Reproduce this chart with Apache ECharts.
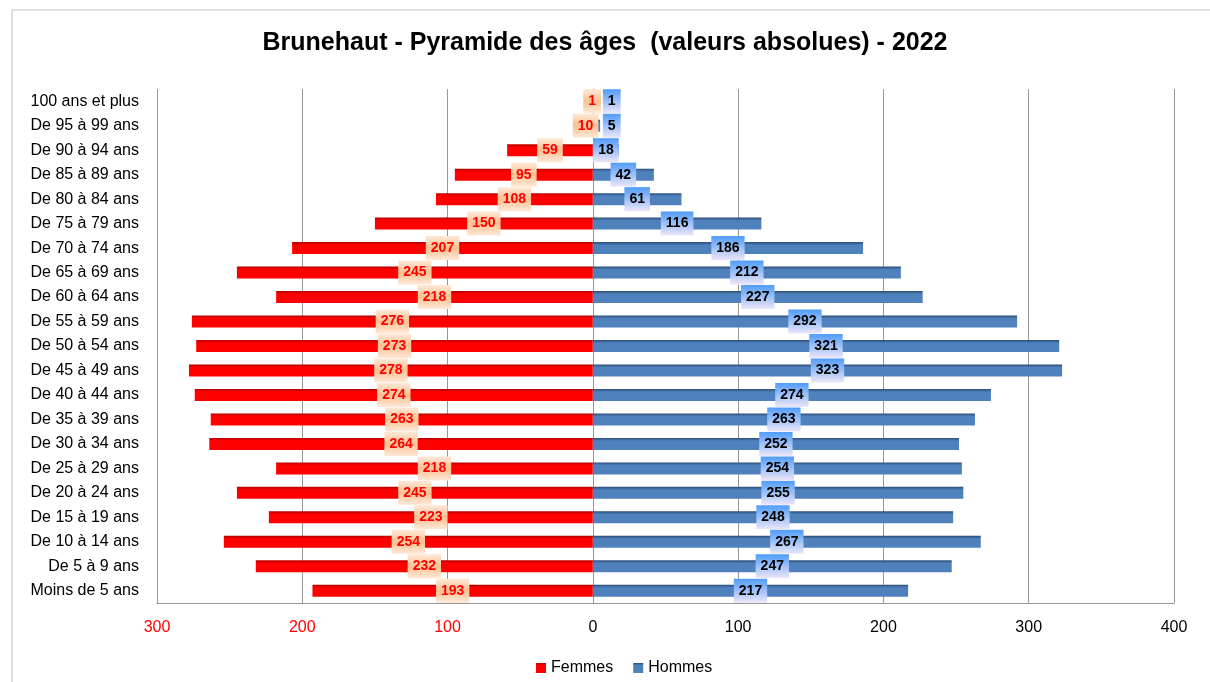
<!DOCTYPE html>
<html><head><meta charset="utf-8">
<script src="https://cdn.jsdelivr.net/npm/echarts@6/dist/echarts.min.js"></script>
<style>html,body{margin:0;padding:0;background:#fff}#c{width:1210px;height:682px}</style>
</head><body><div id="c"></div>
<script>
const categories = ["Moins de 5 ans","De 5 à 9 ans","De 10 à 14 ans","De 15 à 19 ans","De 20 à 24 ans","De 25 à 29 ans","De 30 à 34 ans","De 35 à 39 ans","De 40 à 44 ans","De 45 à 49 ans","De 50 à 54 ans","De 55 à 59 ans","De 60 à 64 ans","De 65 à 69 ans","De 70 à 74 ans","De 75 à 79 ans","De 80 à 84 ans","De 85 à 89 ans","De 90 à 94 ans","De 95 à 99 ans","100 ans et plus"];
const femmes = [193,232,254,223,245,218,264,263,274,278,273,276,218,245,207,150,108,95,59,10,1];
const hommes = [217,247,267,248,255,254,252,263,274,323,321,292,227,212,186,116,61,42,18,5,1];
const titleText = "Brunehaut - Pyramide des âges  (valeurs absolues) - 2022";

const grad = (stops) => ({type:'linear',x:0,y:0,x2:0,y2:1,colorStops:stops.map(([o,c])=>({offset:o,color:c}))});
const font = "'Liberation Sans', Arial, sans-serif";

const chart = echarts.init(document.getElementById('c'), null, {renderer:'canvas'});
chart.setOption({
  backgroundColor:'#fff',
  animation:false,
  graphic:[{type:'rect',shape:{x:12,y:10,width:1200,height:680},style:{fill:'none',stroke:'#bfbfbf',lineWidth:1}}],
  title:{text:titleText,left:'center',top:26,textStyle:{fontFamily:font,fontSize:25,fontWeight:'bold',color:'#000'}},
  legend:{top:655,left:531,itemWidth:10,itemHeight:10,itemGap:20,icon:'rect',
    textStyle:{fontFamily:font,fontSize:16,color:'#000'},data:['Femmes','Hommes']},
  grid:{left:157,right:36,top:89,bottom:79},
  xAxis:{type:'value',min:-300,max:400,interval:100,
    axisLine:{show:true,lineStyle:{color:'#969696'}},
    axisTick:{show:false},
    splitLine:{show:true,lineStyle:{color:'#969696',width:1}},
    axisLabel:{margin:17,fontFamily:font,fontSize:16,formatter:v=>Math.abs(v),
      color:(v)=> (v<0?'#ff0000':'#000')}},
  yAxis:{type:'category',data:categories,
    axisLine:{show:true,lineStyle:{color:'#969696'}},
    axisTick:{show:false},
    axisLabel:{margin:18,fontFamily:font,fontSize:16,color:'#000'}},
  series:[
    {name:'Femmes',type:'bar',barWidth:12,barGap:'-100%',
      data:femmes.map(v=>-v),
      itemStyle:{color:grad([[0,'#b30000'],[0.25,'#ff0000'],[1,'#ff0000']])},
      label:{show:true,position:'inside',formatter:p=>Math.abs(p.value),
        color:'#ff0000',fontFamily:font,fontSize:14,fontWeight:'bold',
        padding:[5,5,5,5],
        backgroundColor:grad([[0,'#fde9d9'],[0.5,'#fac090'],[1,'#fde9d9']])}},
    {name:'Hommes',type:'bar',barWidth:12,
      data:hommes.map(v=> v<15 ? {value:v,label:{position:'insideLeft',distance:10}} : v),
      itemStyle:{color:grad([[0,'#2c4d75'],[0.25,'#4f81bd'],[1,'#4f81bd']])},
      label:{show:true,position:'inside',
        color:'#000',fontFamily:font,fontSize:14,fontWeight:'bold',
        padding:[5,5,5,5],
        backgroundColor:grad([[0,'#4f9cf9'],[1,'#ece6f8']])}}
  ]
});
</script></body></html>
